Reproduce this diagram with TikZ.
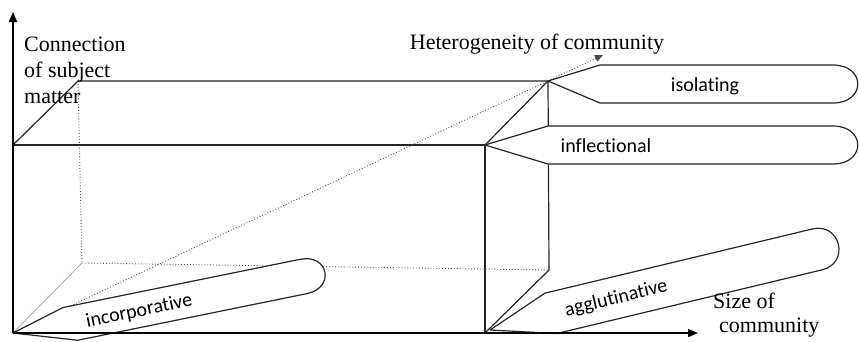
\documentclass[tikz,border=0pt]{standalone}
\usepackage{fontspec}
\setmainfont{Liberation Serif}
\newfontfamily\labelfont[RawFeature={-liga;-dlig;-clig}]{Carlito}
\usetikzlibrary{arrows.meta}
\begin{document}
\begin{tikzpicture}[x=1pt,y=-1pt,
  edge/.style={line width=1.2pt, black!85, line join=round},
  hidden/.style={line width=0.9pt, dotted, black!70},
  axis/.style={line width=1.8pt, black, -{Triangle[length=10pt,width=8pt]}},
  blob/.style={line width=1.2pt, black!85, fill=white, line join=round},
  serif/.style={font=\fontsize{22}{26}\selectfont, inner sep=0pt},
  sans/.style={font=\labelfont\fontsize{20}{24}\selectfont, inner sep=0pt}]
\useasboundingbox (0,0) rectangle (859,341);
% corners
\coordinate (O) at (13,333);
\coordinate (Ytip) at (13,12);
\coordinate (Xtip) at (698,333);
\coordinate (F1) at (13,145);
\coordinate (F2) at (485,145);
\coordinate (F3) at (485,333);
\coordinate (B1) at (78,81);
\coordinate (B2) at (548,81);
\coordinate (B3) at (549,270);
\coordinate (B4) at (82,263);
\coordinate (H) at (603,55);
% box
\draw[edge] (F1) -- (F2) -- (F3);
\draw[edge] (F1) -- (B1) -- (B2) -- (B3) -- (F3);
\draw[edge] (F2) -- (B2);
\draw[hidden] (B1) -- (B4) -- (B3);
\draw[line width=0.8pt, color={rgb,255:red,140;green,170;blue,215}] (O) -- (B4);
\draw[hidden, -{Triangle[length=8pt,width=7pt]}] (O) -- (H);
% isolating
\draw[blob] (B2) -- (600,65) -- (833,65) .. controls (866,65) and (866,103) .. (833,103) -- (600,103) -- cycle;
\node[sans] (iso) at (705,86) {isolating};
% inflectional
\draw[blob] (F2) -- (548,126) -- (833,126) .. controls (866,126) and (866,164) .. (833,164) -- (548,164) -- cycle;
\node[sans] (infl) at (606,146) {inflectional};
% incorporative
\begin{scope}[shift={(O)}, rotate=11.5]
  \draw[blob] (0,0) -- (54,-15) -- (296,-15) .. controls (325,-15) and (325,20) .. (296,20) -- (62,20) -- cycle;
  \node[sans, rotate=11.5] (inc) at (128,4) {incorporative};
\end{scope}
% agglutinative
\begin{scope}[shift={(490,330)}, rotate=13.5]
  \draw[blob] (0,0) -- (62,-23) -- (337,-23) .. controls (366,-23) and (366,19) .. (337,19) -- (64,19) -- cycle;
  \node[sans, rotate=13.5] (agg) at (130,-1) {agglutinative};
\end{scope}
% axes
\draw[axis] (O) -- (Ytip);
\draw[axis] (O) -- (Xtip);
% labels
\node[serif, anchor=west, align=left] (conn) at (24,70) {Connection\\of subject\\matter};
\node[serif] (het) at (537,44) {Heterogeneity of community};
\node[serif, anchor=west, align=left, font=\fontsize{22}{24}\selectfont] (size) at (713,315) {Size of\\\hspace*{6pt}community};
\end{tikzpicture}
\end{document}
